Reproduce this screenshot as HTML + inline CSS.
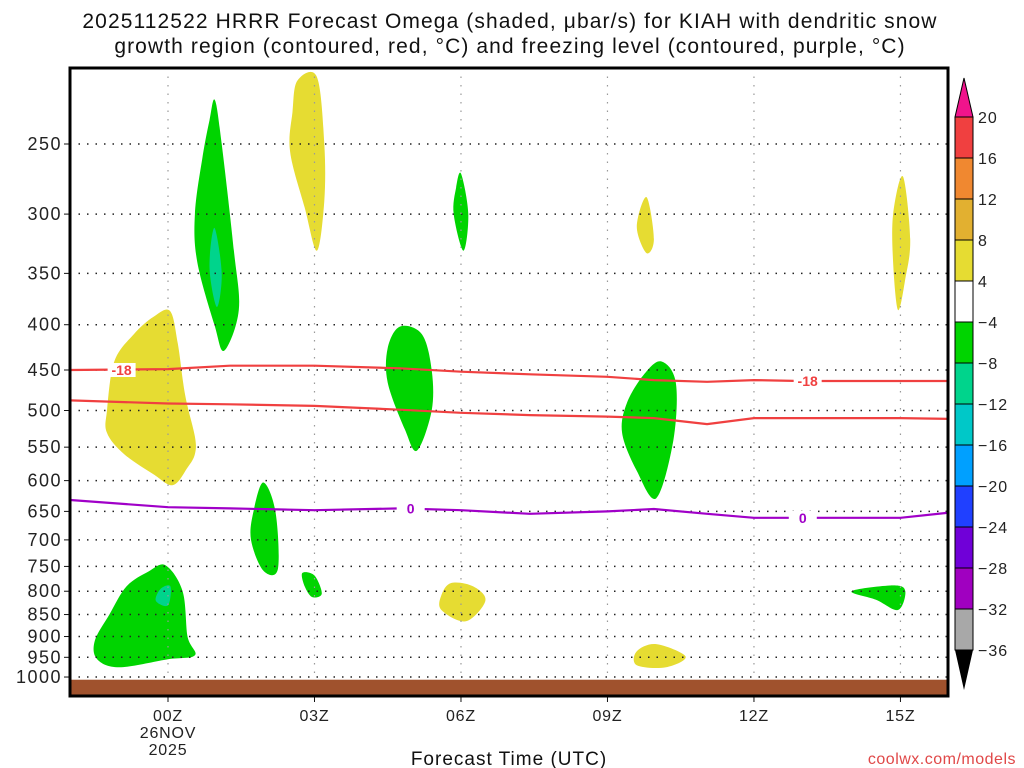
<!DOCTYPE html>
<html><head><meta charset="utf-8"><style>
html,body{margin:0;padding:0;background:#fff;}
svg{display:block;font-family:"Liberation Sans",sans-serif;}
</style></head><body>
<svg id="chart" width="1024" height="768" viewBox="0 0 1024 768">
<text x="510" y="28" font-size="21" letter-spacing="1.1" text-anchor="middle" fill="#111">2025112522 HRRR Forecast Omega (shaded, μbar/s) for KIAH with dendritic snow</text>
<text x="510" y="53" font-size="21" letter-spacing="1.1" text-anchor="middle" fill="#111">growth region (contoured, red, °C) and freezing level (contoured, purple, °C)</text>
<g id="plot"></g>
<g id="cbar"></g>
<text x="509" y="765" font-size="19" letter-spacing="1" text-anchor="middle" fill="#111">Forecast Time (UTC)</text>
<text x="1016" y="764" font-size="16" letter-spacing="0.5" text-anchor="end" fill="#e04848">coolwx.com/models</text>
</svg>
<script>
const pLevels=[250,300,350,400,450,500,550,600,650,700,750,800,850,900,950,1000];
const xTickHours=[0,3,6,9,12,15];
const xTickLabels=["00Z","03Z","06Z","09Z","12Z","15Z"];
const cbarLabels=[20,16,12,8,4,-4,-8,-12,-16,-20,-24,-28,-32,-36];
const cbarColors=["#f04040","#f08830","#e2b030","#e6dc32","#ffffff","#00d400","#00d48c","#00c8c8","#00a0ff","#2040ff","#7000d8","#a000c0","#a8a8a8"];
const blobYellowLeft=[[-1.25,500],[-1.1,440],[-0.7,410],[-0.3,392],[0.04,386],[0.2,420],[0.35,480],[0.55,535],[0.55,560],[0.4,580],[0.1,607],[-0.3,590],[-0.9,560],[-1.25,530]];
const blobGreenTall=[[0.96,223],[1.1,250],[1.35,330],[1.45,385],[1.15,428],[0.95,400],[0.6,340],[0.55,300],[0.7,260],[0.85,235]];
const blobTealTall=[[0.95,311],[1.1,350],[1.0,382],[0.85,345]];
const blobYellow03=[[2.65,212],[3.05,210],[3.2,250],[3.2,290],[3.05,330],[2.8,295],[2.5,255],[2.55,230]];
const blobGreen06top=[[6.0,270],[6.15,300],[6.05,330],[5.85,300],[5.9,280]];
const blobYellow09top=[[9.8,287],[9.95,320],[9.8,332],[9.6,310]];
const blobYellow15=[[15.05,272],[15.2,320],[15.1,355],[14.95,385],[14.85,340],[14.85,300]];
const blobGreen05=[[4.75,402],[5.2,410],[5.4,450],[5.4,500],[5.1,555],[4.85,525],[4.5,465],[4.5,425]];
const blobGreen10=[[10.1,440],[10.4,465],[10.35,540],[10.0,628],[9.6,585],[9.3,530],[9.4,490],[9.75,455]];
const blobGreen02=[[1.95,603],[2.2,650],[2.25,755],[1.95,758],[1.7,700],[1.75,650]];
const blobGreen03small=[[2.75,763],[3.0,768],[3.15,805],[2.95,812],[2.8,790]];
const blobYellow06low=[[5.8,783],[6.25,790],[6.5,820],[6.1,865],[5.6,840],[5.6,808]];
const blobYellow10low=[[9.6,935],[10.0,918],[10.6,948],[10.2,975],[9.6,970]];
const blobGreen15low=[[14.0,800],[14.85,788],[15.1,800],[14.95,840],[14.5,818]];
const blobGreenLow=[[-1.5,910],[-1.2,850],[-0.85,790],[-0.4,760],[-0.05,748],[0.3,800],[0.4,900],[0.55,945],[0.0,955],[-1.0,975],[-1.45,955]];
const blobTealLow=[[-0.15,795],[0.05,790],[0.0,830],[-0.25,820]];
const contourHours=[-2,0,1.27,3,4.75,6,7.41,9,9.95,11.04,12,12.94,15,16];
const red18Upper=[450,449,445,445,448,452,455,458,462,464,462,463,463,463];
const red18Lower=[487,491,492,494,499,503,506,508,510,518,510,510,510,511];
const purple0=[631,643,645,648,645,648,654,650,646,654,661,661,661,652];

const NS="http://www.w3.org/2000/svg";
const L=70,R=948,T=68,B=696;
const xs=h=>168+(h)*48.83;
const ys=p=>144+Math.log(p/250)*384.5;
function mk(tag,attrs,parent){const e=document.createElementNS(NS,tag);for(const k in attrs)e.setAttribute(k,attrs[k]);parent.appendChild(e);return e;}
const plot=document.getElementById('plot');
const cb=document.getElementById('cbar');
mk('rect',{x:L,y:T,width:R-L,height:B-T,fill:'#fff'},plot);
function smoothPath(pts){
  const P=pts.map(q=>[xs(q[0]),ys(q[1])]);const n=P.length;let d='';
  for(let i=0;i<n;i++){
    const p0=P[(i-1+n)%n],p1=P[i],p2=P[(i+1)%n],p3=P[(i+2)%n];
    if(i===0)d+='M'+p1[0].toFixed(1)+','+p1[1].toFixed(1);
    const c1=[p1[0]+(p2[0]-p0[0])/6,p1[1]+(p2[1]-p0[1])/6];
    const c2=[p2[0]-(p3[0]-p1[0])/6,p2[1]-(p3[1]-p1[1])/6];
    d+=' C'+c1.map(v=>v.toFixed(1)).join(',')+' '+c2.map(v=>v.toFixed(1)).join(',')+' '+p2.map(v=>v.toFixed(1)).join(',');
  }
  return d+'Z';
}
function blob(pts,color,name){
  const e=mk('path',{d:smoothPath(pts),fill:color},plot);
  
  
}
const Y="#e6dc32",G="#00d400",TE="#00d48c";
blob(blobYellowLeft,Y,'omega-yellow-left');
blob(blobGreenTall,G,'omega-green-tall');
blob(blobTealTall,TE,'omega-teal-tall');
blob(blobYellow03,Y,'omega-yellow-03z');
blob(blobGreen06top,G,'omega-green-06z-top');
blob(blobYellow09top,Y,'omega-yellow-09z-top');
blob(blobYellow15,Y,'omega-yellow-15z');
blob(blobGreen05,G,'omega-green-05z');
blob(blobGreen10,G,'omega-green-10z');
blob(blobGreen02,G,'omega-green-02z');
blob(blobGreen03small,G,'omega-green-03z-small');
blob(blobYellow06low,Y,'omega-yellow-06z-low');
blob(blobYellow10low,Y,'omega-yellow-10z-low');
blob(blobGreen15low,G,'omega-green-15z-low');
blob(blobGreenLow,G,'omega-green-low');
blob(blobTealLow,TE,'omega-teal-low');
pLevels.forEach(p=>{
  const y=ys(p);
  const g=mk('line',{x1:L,x2:R,y1:y,y2:y,stroke:'#222','stroke-width':1.5,'stroke-dasharray':'1.5 7'},plot);
  
  
  mk('line',{x1:L,x2:L-6,y1:y,y2:y,stroke:'#111','stroke-width':1},plot);
  const t=mk('text',{x:L-8,y:y+6,'font-size':18,'letter-spacing':1.5,'text-anchor':'end',fill:'#222'},plot);
  t.textContent=p;
  
  
});
xTickHours.forEach((h,i)=>{
  const x=xs(h);
  mk('line',{x1:x,x2:x,y1:T,y2:B,stroke:'#999','stroke-width':1.2,'stroke-dasharray':'1.5 7'},plot);
  mk('line',{x1:x,x2:x,y1:B,y2:B+6,stroke:'#111','stroke-width':1},plot);
  const t=mk('text',{x:x,y:721,'font-size':16,'letter-spacing':0.8,'text-anchor':'middle',fill:'#222'},plot);
  t.textContent=xTickLabels[i];
  
  
});
const d1=mk('text',{x:xs(0),y:738,'font-size':16,'letter-spacing':0.8,'text-anchor':'middle',fill:'#222'},plot);d1.textContent='26NOV';


const d2=mk('text',{x:xs(0),y:755,'font-size':16,'letter-spacing':0.8,'text-anchor':'middle',fill:'#222'},plot);d2.textContent='2025';


const gr=mk('rect',{x:L,y:ys(1007),width:R-L,height:B-ys(1007),fill:'#a0522d'},plot);


function line(vals,color,name){
  const e=mk('polyline',{points:contourHours.map((h,i)=>xs(h).toFixed(1)+','+ys(vals[i]).toFixed(1)).join(' '),fill:'none',stroke:color,'stroke-width':2.2,'stroke-linejoin':'round'},plot);
  
  
}
line(red18Upper,'#f04040','contour-minus18-upper');
line(red18Lower,'#f04040','contour-minus18-lower');
line(purple0,'#a000c8','freezing-level-contour');
function clabel(h,p,txt,color,name){
  const x=xs(h),y=ys(p);
  mk('rect',{x:x-14,y:y-7,width:28,height:14,fill:'#fff'},plot);
  const t=mk('text',{x:x,y:y+5,'font-size':14,'font-weight':'bold','text-anchor':'middle',fill:color},plot);
  t.textContent=txt;
  
  
}
clabel(-0.95,450,'-18','#f04040','contour-label-minus18-left');
clabel(13.1,463,'-18','#f04040','contour-label-minus18-right');
clabel(4.97,645,'0','#a000c8','contour-label-0-left');
clabel(13.0,661,'0','#a000c8','contour-label-0-right');
mk('rect',{x:L,y:T,width:R-L,height:B-T,fill:'none',stroke:'#000','stroke-width':3},plot);
const cx=955,cw=18,c0=117,step=41;
mk('polygon',{points:`${cx},${c0} ${cx+cw},${c0} ${cx+cw/2},78`,fill:'#f0148c',stroke:'#000','stroke-width':1},cb);
cbarColors.forEach((c,i)=>{
  const r=mk('rect',{x:cx,y:c0+i*step,width:cw,height:step,fill:c,stroke:'#000','stroke-width':1},cb);
  
  
});
const cEnd=c0+cbarColors.length*step;
mk('polygon',{points:`${cx},${cEnd} ${cx+cw},${cEnd} ${cx+cw/2},690`,fill:'#000'},cb);
cbarLabels.forEach((v,i)=>{
  const t=mk('text',{x:978,y:c0+i*step+6,'font-size':16,'letter-spacing':1,fill:'#222'},cb);
  t.textContent=v<0?'\u2212'+(-v):String(v);
  
  
});
</script>
</body></html>
